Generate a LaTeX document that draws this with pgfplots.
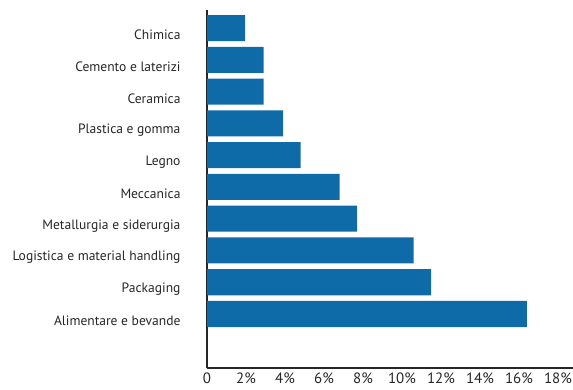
\documentclass[border=0pt]{standalone}
\usepackage{fontspec}
\setmainfont{PT Sans}
\usepackage{pgfplots}
\pgfplotsset{compat=1.18}
\definecolor{barblue}{RGB}{14,107,168}
\begin{document}
\begin{tikzpicture}
\begin{axis}[
  at={(207bp,22bp)}, anchor=south west,
  scale only axis, width=366bp, height=358bp,
  xbar, bar width=0.82,
  xmin=0, xmax=18.77, ymin=-0.7, ymax=10.57,
  axis x line=bottom, axis y line=left,
  axis line style={-, line width=1.3bp, black!85},
  xtick={0,2,4,6,8,10,12,14,16,18},
  xticklabels={0,2\%,4\%,6\%,8\%,10\%,12\%,14\%,16\%,18\%},
  ytick={1,...,10},
  yticklabels={Alimentare e bevande,Packaging,Logistica e material handling,Metallurgia e siderurgia,Meccanica,Legno,Plastica e gomma,Ceramica,Cemento e laterizi,Chimica},
  major tick length=0pt,
  tick label style={text=black!85},
  /pgf/number format/assume math mode=true,
  yticklabel style={font=\fontsize{13.6}{15}\selectfont, xshift=-23bp, yshift=-7bp},
  xticklabel style={font=\fontsize{15}{16}\selectfont, yshift=-1bp},
]
\addplot[fill=barblue, draw=none] coordinates {
 (16.4,1) (11.5,2) (10.6,3) (7.7,4) (6.8,5) (4.8,6) (3.9,7) (2.9,8) (2.9,9) (1.95,10)};
\end{axis}
\pgfresetboundingbox
\path[use as bounding box] (0,0) rectangle (573bp,390bp);
\end{tikzpicture}
\end{document}
